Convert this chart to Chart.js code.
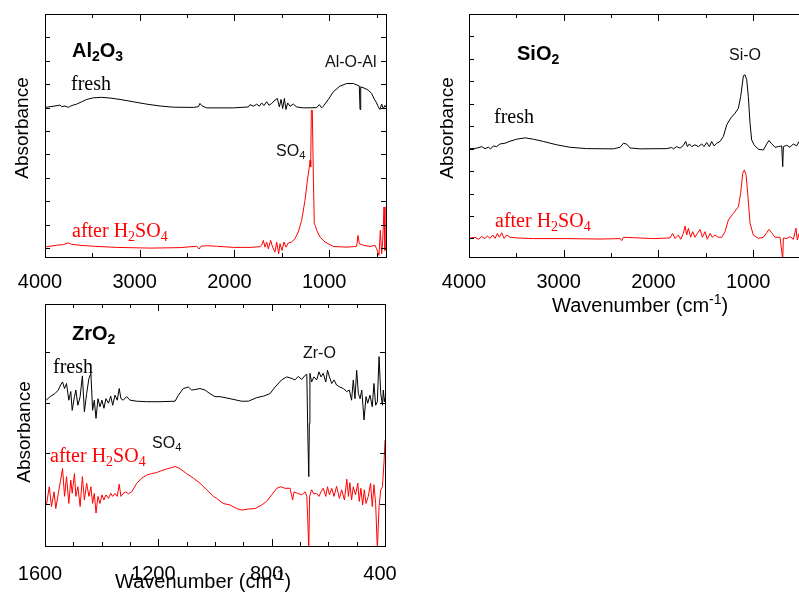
<!DOCTYPE html>
<html>
<head>
<meta charset="utf-8">
<script src="https://cdn.jsdelivr.net/npm/chart.js@4.4.1/dist/chart.umd.min.js"></script>
<style>
  html, body { margin: 0; padding: 0; background: #fff; }
  body { width: 799px; height: 594px; overflow: hidden; position: relative; }
  canvas { position: absolute; }
  .t { position: absolute; line-height: 1; white-space: nowrap; color: #000;
       font-family: "Liberation Sans", Arial, sans-serif; }
  .serif { font-family: "Liberation Serif", "Times New Roman", serif; font-size: 20px; }
  .red { color: #ff0000; }
  .title { font-weight: bold; font-size: 20px; }
  .note { font-size: 16px; color: #111; }
  .axis { font-size: 20px; }
  .abs { font-size: 19px; transform: translate(-50%, -50%) rotate(-90deg); }
  sub { font-size: 0.7em; vertical-align: -0.3em; line-height: 0; }
  sup { font-size: 0.7em; vertical-align: 0.55em; line-height: 0; }
</style>
</head>
<body>
<canvas id="al" width="400" height="300" style="left:0;top:0"></canvas>
<canvas id="si" width="400" height="300" style="left:424px;top:0"></canvas>
<canvas id="zr" width="400" height="304" style="left:0;top:290px"></canvas>

<!-- Al2O3 panel texts -->
<div class="t abs" style="left:21px;top:128px">Absorbance</div>
<div class="t title" style="left:72px;top:40px">Al<sub>2</sub>O<sub>3</sub></div>
<div class="t serif" style="left:71px;top:73px">fresh</div>
<div class="t serif red" style="left:72px;top:220px">after H<sub>2</sub>SO<sub>4</sub></div>
<div class="t note" style="left:325px;top:54px">Al-O-Al</div>
<div class="t note" style="left:276px;top:143px">SO<sub>4</sub></div>

<!-- SiO2 panel texts -->
<div class="t abs" style="left:446px;top:128px">Absorbance</div>
<div class="t title" style="left:517px;top:43px">SiO<sub>2</sub></div>
<div class="t serif" style="left:494px;top:106px">fresh</div>
<div class="t serif red" style="left:495px;top:210px">after H<sub>2</sub>SO<sub>4</sub></div>
<div class="t note" style="left:729px;top:47px">Si-O</div>
<div class="t axis" style="left:552px;top:295px">Wavenumber (cm<sup>-1</sup>)</div>

<!-- ZrO2 panel texts -->
<div class="t abs" style="left:23px;top:432px">Absorbance</div>
<div class="t title" style="left:72px;top:323px">ZrO<sub>2</sub></div>
<div class="t serif" style="left:53px;top:356px">fresh</div>
<div class="t serif red" style="left:50px;top:445px">after H<sub>2</sub>SO<sub>4</sub></div>
<div class="t note" style="left:303px;top:345px">Zr-O</div>
<div class="t note" style="left:152px;top:435px">SO<sub>4</sub></div>
<div class="t axis" style="left:115px;top:571px">Wavenumber (cm<sup>-1</sup>)</div>

<script>
// wide range tick marks (Al2O3, SiO2) and narrow range (ZrO2)
const wideTicks = [4000, 3500, 3000, 2500, 2000, 1500, 1000, 500];
const wideLabels = [4000, 3000, 2000, 1000];
const narrowTicks = [1600, 1500, 1400, 1300, 1200, 1100, 1000, 900, 800, 700, 600, 500, 400];
const narrowLabels = [1600, 1200, 800, 400];
const wideYTicks = [0, 1, 2, 3, 4, 5, 6, 7, 8, 9];
const narrowYTicks = [0, 1, 2, 3];

// [wavenumber, absorbance]
const al2o3Fresh = [
  [4000,6.01],[3947,6.04],[3894,6.07],[3842,6.11],[3824,6.04],[3789,6.07],[3754,6.01],[3729,6.07],
  [3701,6.11],[3666,6.15],[3613,6.25],[3560,6.35],[3490,6.42],[3402,6.44],[3314,6.41],[3208,6.35],
  [3067,6.25],[2927,6.15],[2786,6.07],[2645,6.02],[2434,6.01],[2381,6.04],[2364,6.18],[2346,6.09],
  [2321,6.04],[2293,5.99],[2012,5.99],[1853,6.03],[1836,6.13],[1801,6.06],[1765,6.15],[1737,6.06],
  [1713,6.20],[1688,6.09],[1660,6.25],[1635,6.10],[1607,6.18],[1572,6.32],[1547,6.39],[1526,6.03],
  [1508,6.35],[1491,5.96],[1473,6.39],[1456,5.92],[1438,6.20],[1413,6.06],[1378,6.15],[1343,6.03],
  [1273,5.99],[1132,6.00],[1104,6.13],[1079,5.99],[1062,6.06],[1009,6.35],[956,6.68],[886,6.92],
  [815,7.03],[745,7.03],[682,6.92],[674,5.92],[667,6.89],[622,6.82],[587,6.75],[551,6.60],
  [527,6.39],[499,6.20],[481,6.03],[464,5.92],[446,6.15],[428,5.96],[411,6.10],[400,6.02]
];
const al2o3Sulfated = [
  [4000,0.05],[3947,0.08],[3877,0.12],[3806,0.15],[3754,0.22],[3718,0.16],[3630,0.12],[3490,0.08],
  [3243,0.03],[2891,0.00],[2575,0.02],[2399,0.08],[2374,-0.04],[2353,0.08],[2293,0.10],[2188,0.08],
  [2012,0.03],[1836,0.03],[1730,0.06],[1713,0.12],[1695,0.33],[1677,0.04],[1660,0.26],[1642,-0.03],
  [1618,0.33],[1597,0.04],[1572,-0.17],[1554,0.26],[1533,-0.24],[1519,0.19],[1498,-0.10],[1477,0.26],
  [1456,0.04],[1431,0.22],[1396,0.26],[1361,0.40],[1326,0.69],[1290,1.19],[1255,2.04],[1230,2.90],
  [1209,3.47],[1202,3.75],[1195,3.47],[1188,5.89],[1178,5.89],[1167,3.04],[1157,1.04],[1146,0.97],
  [1132,0.76],[1097,0.47],[1044,0.26],[956,0.07],[815,0.04],[710,0.07],[696,0.54],[682,0.19],
  [639,0.12],[569,0.07],[516,0.12],[499,-0.03],[474,-0.31],[460,0.76],[446,-0.24],[435,0.26],
  [421,1.76],[411,-0.10],[400,0.05]
];

const sio2Fresh = [
  [4000,3.99],[3919,4.02],[3866,4.09],[3831,4.00],[3795,4.06],[3771,3.99],[3743,4.12],[3707,4.09],
  [3672,4.21],[3620,4.24],[3567,4.33],[3496,4.42],[3408,4.48],[3320,4.42],[3215,4.32],[3074,4.17],
  [2933,4.06],[2757,4.00],[2476,3.99],[2405,4.06],[2370,4.24],[2335,4.20],[2300,4.03],[2194,3.99],
  [1913,4.00],[1860,4.05],[1842,3.99],[1807,4.09],[1772,4.02],[1737,4.14],[1712,4.32],[1695,4.09],
  [1674,4.21],[1649,4.09],[1614,4.17],[1578,4.09],[1543,4.21],[1519,4.09],[1491,4.27],[1462,4.09],
  [1438,4.32],[1413,4.12],[1385,4.24],[1350,4.32],[1315,4.54],[1279,5.06],[1237,5.36],[1191,5.58],
  [1156,5.80],[1132,6.32],[1103,7.25],[1086,7.29],[1068,7.07],[1051,6.32],[1033,5.13],[1016,4.39],
  [991,4.17],[945,3.97],[892,3.94],[857,4.21],[833,4.36],[804,4.21],[769,4.06],[734,4.09],
  [699,4.12],[688,3.20],[681,4.09],[646,4.15],[611,4.06],[576,4.21],[541,4.12],[516,4.32]
];
const sio2Sulfated = [
  [4000,0.00],[3936,0.05],[3901,-0.04],[3866,0.08],[3831,-0.01],[3806,0.11],[3778,0.00],[3750,0.15],
  [3725,0.00],[3700,0.22],[3679,0.05],[3655,0.25],[3630,0.00],[3602,0.15],[3567,0.05],[3496,0.02],
  [3320,-0.01],[2968,-0.01],[2617,-0.03],[2405,-0.01],[2388,-0.10],[2370,0.05],[2265,0.03],[2054,-0.01],
  [1878,0.02],[1850,0.22],[1825,-0.01],[1790,0.15],[1765,-0.04],[1737,0.22],[1719,0.55],[1702,0.15],
  [1684,0.45],[1660,0.05],[1638,0.30],[1614,0.05],[1589,0.22],[1561,0.40],[1536,0.05],[1508,0.30],
  [1484,-0.04],[1455,0.22],[1431,0.05],[1403,0.15],[1367,0.05],[1332,0.05],[1297,0.30],[1262,0.82],
  [1209,1.12],[1156,1.41],[1132,2.01],[1110,2.90],[1093,3.05],[1075,2.83],[1058,2.01],[1033,0.67],
  [998,0.15],[945,0.00],[892,0.05],[857,0.25],[833,0.40],[804,0.25],[769,0.05],[716,0.05],
  [688,-0.95],[681,0.02],[646,-0.01],[611,0.08],[576,-0.04],[548,0.45],[534,-0.07],[516,0.22]
];

const zro2Fresh = [
  [1600,2.06],[1594,2.06],[1582,2.12],[1565,2.18],[1553,2.25],[1545,2.35],[1538,2.41],[1531,2.28],
  [1524,2.38],[1516,2.05],[1509,2.22],[1504,1.85],[1496,2.12],[1491,2.25],[1484,1.95],[1476,2.12],
  [1468,2.53],[1461,1.82],[1453,2.18],[1445,2.48],[1438,2.58],[1432,1.85],[1426,2.05],[1420,1.69],
  [1413,2.08],[1406,1.92],[1399,2.05],[1392,1.89],[1385,2.08],[1376,1.99],[1368,2.13],[1361,1.95],
  [1353,2.15],[1345,2.05],[1338,2.28],[1332,2.08],[1324,2.05],[1312,2.12],[1300,2.05],[1276,2.03],
  [1241,2.02],[1194,2.02],[1141,2.03],[1129,2.15],[1112,2.28],[1094,2.31],[1082,2.25],[1071,2.26],
  [1053,2.28],[1035,2.25],[1018,2.18],[1000,2.12],[982,2.12],[947,2.08],[906,2.03],[882,2.03],
  [853,2.10],[829,2.13],[806,2.18],[788,2.31],[765,2.45],[747,2.51],[729,2.48],[718,2.45],
  [706,2.52],[694,2.46],[682,2.54],[676,2.56],[672,1.26],[669,0.54],[667,1.59],[665,2.58],
  [659,2.41],[651,2.51],[641,2.45],[633,2.61],[626,2.51],[618,2.58],[609,2.41],[603,2.64],
  [596,2.51],[588,2.38],[580,2.45],[571,2.35],[559,2.31],[547,2.28],[535,2.22],[526,2.25],
  [518,2.05],[512,2.45],[506,2.08],[500,2.64],[494,2.18],[488,2.08],[482,2.25],[474,1.66],
  [467,2.12],[461,1.99],[453,2.15],[445,1.92],[439,2.38],[433,1.95],[427,2.02],[421,2.91],
  [415,2.18],[409,1.95],[406,2.25],[402,2.02],[400,2.10]
];
const zro2Sulfated = [
  [1600,0.01],[1594,0.01],[1585,0.34],[1577,-0.05],[1568,0.24],[1562,-0.09],[1553,0.21],[1545,0.47],
  [1538,0.70],[1531,0.15],[1524,0.54],[1516,0.01],[1509,0.47],[1504,0.21],[1496,0.60],[1491,0.15],
  [1484,0.34],[1476,-0.05],[1468,0.54],[1461,0.08],[1453,0.41],[1445,0.15],[1438,0.34],[1432,0.01],
  [1426,0.21],[1420,-0.18],[1413,0.15],[1406,0.01],[1399,0.18],[1392,0.08],[1385,0.18],[1376,0.11],
  [1368,0.21],[1361,0.15],[1353,0.21],[1345,0.15],[1338,0.39],[1332,0.15],[1324,0.21],[1314,0.24],
  [1306,0.20],[1294,0.24],[1276,0.41],[1259,0.51],[1241,0.57],[1224,0.60],[1206,0.62],[1188,0.66],
  [1171,0.69],[1153,0.72],[1141,0.74],[1124,0.70],[1100,0.60],[1076,0.51],[1053,0.41],[1029,0.28],
  [1006,0.15],[994,0.11],[971,0.01],[947,-0.02],[924,-0.09],[906,-0.12],[882,-0.10],[859,-0.09],
  [835,-0.02],[818,0.05],[800,0.18],[782,0.31],[768,0.34],[753,0.31],[735,0.31],[726,0.08],
  [721,0.24],[709,0.21],[694,0.18],[682,0.24],[676,0.15],[673,-0.25],[669,-0.90],[666,0.15],
  [659,0.28],[651,0.20],[641,0.21],[633,0.15],[626,0.24],[618,0.31],[609,0.15],[603,0.34],
  [596,0.18],[588,0.31],[580,0.15],[571,0.35],[561,0.11],[553,0.28],[543,0.08],[535,0.49],
  [529,0.15],[524,0.42],[518,0.08],[512,0.34],[504,0.18],[496,0.41],[491,0.05],[485,0.31],
  [479,-0.02],[473,0.28],[467,0.01],[459,0.15],[451,0.41],[445,-0.05],[439,0.38],[433,0.01],
  [427,-0.90],[421,-0.05],[415,0.28],[409,0.34],[403,0.87],[400,1.26]
];

const FONT = '"Liberation Sans", Arial, sans-serif';

// box around the plot with inward ticks on all four sides
const frame = {
  id: 'frame',
  afterDatasetsDraw(chart, args, o) {
    const { ctx, chartArea: a } = chart;
    const x = chart.scales.x, y = chart.scales.y;
    ctx.save();
    ctx.strokeStyle = '#000';
    ctx.lineWidth = 1;
    ctx.beginPath();
    o.xTicks.forEach(v => {
      const p = Math.round(x.getPixelForValue(v)) + 0.5;
      const len = o.xLabels.includes(v) ? 7 : 4;
      ctx.moveTo(p, a.bottom); ctx.lineTo(p, a.bottom - len);
      ctx.moveTo(p, a.top); ctx.lineTo(p, a.top + len);
    });
    o.yTicks.forEach(v => {
      const p = Math.round(y.getPixelForValue(v)) + 0.5;
      ctx.moveTo(a.left, p); ctx.lineTo(a.left + 5, p);
      ctx.moveTo(a.right, p); ctx.lineTo(a.right - 5, p);
    });
    ctx.stroke();
    ctx.strokeRect(Math.round(a.left) + 0.5, Math.round(a.top) + 0.5,
                   Math.round(a.right - a.left), Math.round(a.bottom - a.top));
    ctx.restore();
  }
};

function toXY(arr) {
  return arr.map(p => ({ x: p[0], y: p[1] }));
}

function makePanel(id, fresh, sulfated, cfg) {
  const ctx = document.getElementById(id);
  return new Chart(ctx, {
    type: 'line',
    data: {
      datasets: [
        { data: toXY(fresh), borderColor: '#000', borderWidth: 1, pointRadius: 0, tension: 0 },
        { data: toXY(sulfated), borderColor: '#ff0000', borderWidth: 1, pointRadius: 0, tension: 0 }
      ]
    },
    options: {
      responsive: false,
      animation: false,
      events: [],
      layout: { padding: { left: 45, top: 14, right: cfg.right, bottom: 0 } },
      plugins: {
        legend: { display: false },
        tooltip: { enabled: false },
        frame: { xTicks: cfg.xTicks, xLabels: cfg.xLabels, yTicks: cfg.yTicks }
      },
      scales: {
        x: {
          type: 'linear',
          reverse: true,
          min: cfg.xMin,
          max: cfg.xMax,
          afterBuildTicks: s => { s.ticks = cfg.xTicks.map(v => ({ value: v })); },
          afterFit: s => {
            s.height = cfg.bottomSpace;
            // edge labels may hang outside the plot box, as in the original
            s.paddingLeft = 0;
            s.paddingRight = 0;
          },
          grid: { display: false, drawTicks: false },
          border: { display: false },
          ticks: {
            autoSkip: false,
            maxRotation: 0,
            padding: cfg.labelPad,
            labelOffset: -5,
            color: '#000',
            font: { family: FONT, size: 20 },
            callback: v => cfg.xLabels.includes(v) ? String(v) : ''
          }
        },
        y: { display: false, min: cfg.yMin, max: cfg.yMax }
      }
    },
    plugins: [frame]
  });
}

makePanel('al', al2o3Fresh, al2o3Sulfated, {
  xMin: 400, xMax: 4000, xTicks: wideTicks, xLabels: wideLabels,
  yMin: -0.38, yMax: 10, yTicks: wideYTicks, right: 14, bottomSpace: 43, labelPad: 13
});
makePanel('si', sio2Fresh, sio2Sulfated, {
  xMin: 400, xMax: 4000, xTicks: wideTicks, xLabels: wideLabels,
  yMin: -0.83, yMax: 10, yTicks: wideYTicks, right: 14, bottomSpace: 43, labelPad: 13
});
makePanel('zr', zro2Fresh, zro2Sulfated, {
  xMin: 400, xMax: 1600, xTicks: narrowTicks, xLabels: narrowLabels,
  yMin: -0.83, yMax: 3.95, yTicks: narrowYTicks, right: 15, bottomSpace: 48, labelPad: 16
});
</script>
</body>
</html>
